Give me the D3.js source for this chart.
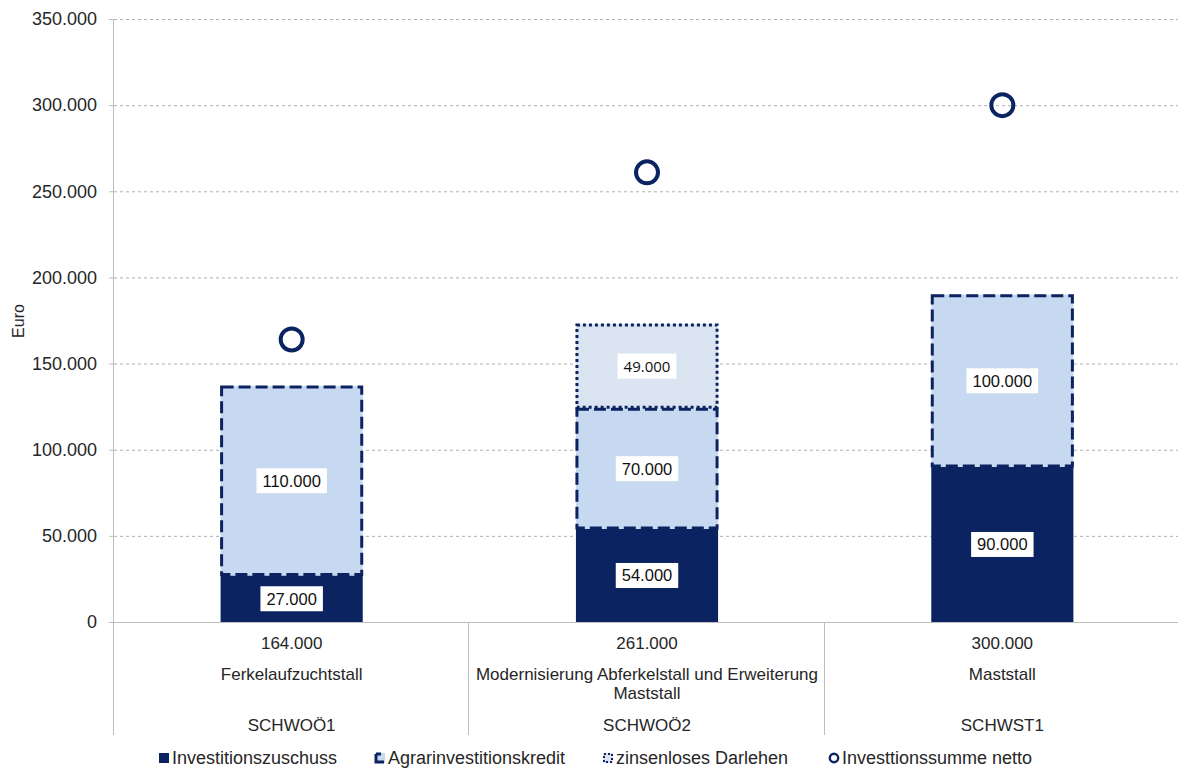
<!DOCTYPE html>
<html>
<head>
<meta charset="utf-8">
<script src="https://cdn.jsdelivr.net/npm/d3@7"></script>
<style>
  body { margin: 0; background: #fff; }
  svg { display: block; font-family: "Liberation Sans", Arial, sans-serif; }
</style>
</head>
<body>
<svg id="chart" width="1178" height="769"></svg>
<script>
const categories = ["SCHWOÖ1", "SCHWOÖ2", "SCHWST1"];
const projectNames = ["Ferkelaufzuchtstall", "Modernisierung Abferkelstall und Erweiterung Maststall", "Maststall"];
const totalLabels = ["164.000", "261.000", "300.000"];
const investitionszuschuss = [27000, 54000, 90000];
const agrarinvestitionskredit = [110000, 70000, 100000];
const zinsenlosesDarlehen = [0, 49000, 0];
const investitionssumme = [164000, 261000, 300000];
const yTicks = [0, 50000, 100000, 150000, 200000, 250000, 300000, 350000];
const seriesNames = ["Investitionszuschuss", "Agrarinvestitionskredit", "zinsenloses Darlehen", "Investtionssumme netto"];

(function () {
const navy = "#0b2461";
const lightBlue = "#c6d9f0";
const paleBlue = "#dbe5f1";
const textCol = "#262626";

const svg = d3.select("#chart");
const pL = 114, pR = 1180, pT = 19, pB = 622;

const x = d3.scaleBand().domain(categories).range([pL, pR]).paddingInner(0).paddingOuter(0);
const y = d3.scaleLinear().domain([0, 350000]).range([pB, pT]);
const fmt = v => d3.format(",")(v).replace(/,/g, ".");

// gridlines
svg.append("g").selectAll("line").data(yTicks.filter(d => d > 0)).join("line")
  .attr("x1", pL).attr("x2", pR)
  .attr("y1", d => y(d) + 0.5).attr("y2", d => y(d) + 0.5)
  .attr("stroke", "#b0b0b0").attr("stroke-width", 1).attr("stroke-dasharray", "3,3");

// y axis
const yAxis = svg.append("g").attr("transform", `translate(${pL},0)`)
  .call(d3.axisLeft(y).tickValues(yTicks).tickFormat(fmt).tickSize(5).tickPadding(12));
yAxis.select(".domain").attr("stroke", "#bdbdbd").attr("d", `M-0.5,${pT}V${pB}`);
yAxis.selectAll(".tick line").attr("stroke", "#bdbdbd");
yAxis.selectAll("text").attr("font-size", 18).attr("fill", textCol).attr("font-family", "Liberation Sans, Arial, sans-serif");

svg.append("text").attr("transform", `translate(24,321) rotate(-90)`)
  .attr("text-anchor", "middle").attr("font-size", 16).attr("fill", textCol).text("Euro");

// stacked data
const rows = categories.map((c, i) => ({
  cat: c,
  segs: [
    { key: 0, v0: 0, v1: investitionszuschuss[i], val: investitionszuschuss[i] },
    { key: 1, v0: investitionszuschuss[i], v1: investitionszuschuss[i] + agrarinvestitionskredit[i], val: agrarinvestitionskredit[i] },
    { key: 2, v0: investitionszuschuss[i] + agrarinvestitionskredit[i], v1: investitionszuschuss[i] + agrarinvestitionskredit[i] + zinsenlosesDarlehen[i], val: zinsenlosesDarlehen[i] }
  ].filter(s => s.val > 0)
}));

const bw = x.bandwidth() * 0.4;
const fills = [navy, lightBlue, paleBlue];
const dashes = [null, "12,5", "3,3"];

const barG = svg.append("g");
rows.forEach(r => {
  const cx = x(r.cat) + x.bandwidth() / 2;
  r.segs.forEach(s => {
    barG.append("rect")
      .attr("x", cx - bw / 2).attr("width", bw)
      .attr("y", y(s.v1)).attr("height", y(s.v0) - y(s.v1))
      .attr("fill", fills[s.key]);
  });
  r.segs.filter(s => s.key > 0).forEach(s => {
    barG.append("rect")
      .attr("x", cx - bw / 2 + 1).attr("width", bw - 2)
      .attr("y", y(s.v1) + 1).attr("height", y(s.v0) - y(s.v1) - 2)
      .attr("fill", "none").attr("stroke", navy).attr("stroke-width", 3)
      .attr("stroke-dasharray", dashes[s.key]);
  });
  r.segs.forEach(s => {
    const ty = (y(s.v0) + y(s.v1)) / 2;
    const g = barG.append("g");
    const t = g.append("text").attr("x", cx).attr("y", ty + 6)
      .attr("text-anchor", "middle").attr("fill", "#111")
      .attr("font-family", s.key === 2 ? "Open Sans, sans-serif" : "Liberation Sans, Arial, sans-serif")
      .attr("font-size", s.key === 2 ? 15 : 16.5)
      .text(fmt(s.val));
    const bb = t.node().getBBox();
    g.insert("rect", "text").attr("x", bb.x - 6).attr("y", ty - 12.5).attr("width", bb.width + 12).attr("height", 25).attr("fill", "#fff");
  });
});

// total circles
svg.append("g").selectAll("circle").data(categories).join("circle")
  .attr("cx", (d) => x(d) + x.bandwidth() / 2)
  .attr("cy", (d, i) => y(investitionssumme[i]))
  .attr("r", 11).attr("fill", "none").attr("stroke", navy).attr("stroke-width", 4);

// x axis baseline
svg.append("line").attr("x1", pL).attr("x2", pR).attr("y1", pB + 0.5).attr("y2", pB + 0.5).attr("stroke", "#bdbdbd");
// category separators
svg.append("g").selectAll("line").data([pL, x(categories[1]), x(categories[2])]).join("line")
  .attr("x1", d => Math.round(d) - 0.5).attr("x2", d => Math.round(d) - 0.5)
  .attr("y1", pB).attr("y2", 735).attr("stroke", "#bdbdbd");

// x labels
const lab = svg.append("g").attr("fill", textCol).attr("text-anchor", "middle");
categories.forEach((c, i) => {
  const cx = x(c) + x.bandwidth() / 2;
  lab.append("text").attr("x", cx).attr("y", 649).attr("font-size", 17).text(totalLabels[i]);
  const words = projectNames[i].split(" ");
  const t = lab.append("text").attr("x", cx).attr("y", 680).attr("font-size", 17);
  let line = [];
  let ts = t.append("tspan").attr("x", cx).attr("dy", 0);
  words.forEach(w => {
    line.push(w);
    ts.text(line.join(" "));
    if (ts.node().getComputedTextLength() > 352 && line.length > 1) {
      line.pop(); ts.text(line.join(" "));
      line = [w];
      ts = t.append("tspan").attr("x", cx).attr("dy", 19).text(w);
    }
  });
  lab.append("text").attr("x", cx).attr("y", 731).attr("font-size", 17).text(c);
});

// legend
const leg = svg.append("g").attr("font-size", 18).attr("fill", textCol);
const legX = [159, 375, 603, 829];
seriesNames.forEach((n, i) => {
  const lx = legX[i], ly = 758;
  if (i === 0) leg.append("rect").attr("x", lx).attr("y", ly - 5).attr("width", 10).attr("height", 10).attr("fill", navy);
  if (i === 1) {
    leg.append("rect").attr("x", lx).attr("y", ly - 5).attr("width", 10).attr("height", 10).attr("fill", lightBlue);
    leg.append("path").attr("d", `M${lx + 1},${ly - 4}V${ly + 4}H${lx + 9}`).attr("fill", "none").attr("stroke", navy).attr("stroke-width", 3);
    leg.append("path").attr("d", `M${lx + 1},${ly - 4}H${lx + 6}`).attr("fill", "none").attr("stroke", navy).attr("stroke-width", 3);
  }
  if (i === 2) {
    leg.append("rect").attr("x", lx).attr("y", ly - 5).attr("width", 10).attr("height", 10).attr("fill", paleBlue);
    leg.append("rect").attr("x", lx + 1).attr("y", ly - 4).attr("width", 8).attr("height", 8).attr("fill", "none").attr("stroke", navy).attr("stroke-width", 2).attr("stroke-dasharray", "2,2");
  }
  if (i === 3) leg.append("circle").attr("cx", lx + 5).attr("cy", ly).attr("r", 4.2).attr("fill", "none").attr("stroke", navy).attr("stroke-width", 2.4);
  leg.append("text").attr("x", lx + 13).attr("y", ly + 6).text(n);
});
})();
</script>
</body>
</html>
